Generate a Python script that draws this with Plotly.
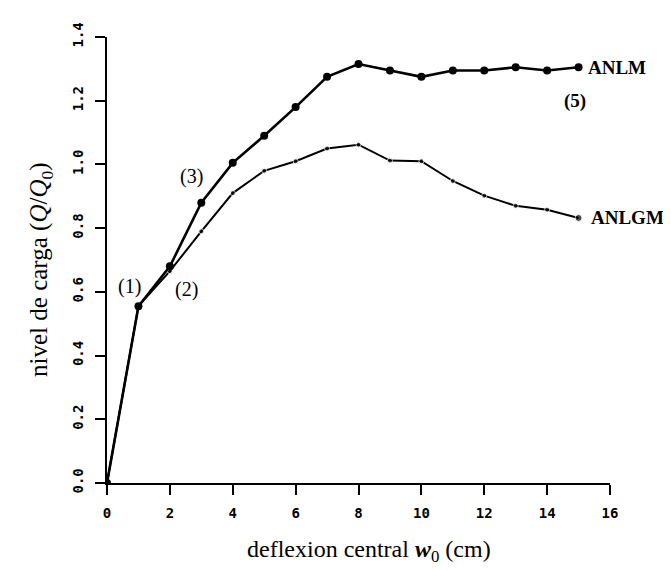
import plotly.graph_objects as go

# deflexion central w0 (cm)
w0 = [0, 1, 2, 3, 4, 5, 6, 7, 8, 9, 10, 11, 12, 13, 14, 15]

# nivel de carga Q/Q0
anlm = [0, 0.555, 0.68, 0.88, 1.005, 1.09, 1.18, 1.275, 1.315, 1.295, 1.275, 1.295, 1.295, 1.305, 1.295, 1.305]
anlgm = [0, 0.555, 0.665, 0.79, 0.91, 0.98, 1.01, 1.05, 1.062, 1.012, 1.01, 0.948, 0.902, 0.87, 0.858, 0.832]

x_ticks = [0, 2, 4, 6, 8, 10, 12, 14, 16]
y_ticks = [0.0, 0.2, 0.4, 0.6, 0.8, 1.0, 1.2, 1.4]

serif = "Liberation Serif"
mono = "DejaVu Sans Mono"

fig = go.Figure()
fig.add_trace(go.Scatter(x=w0, y=anlgm, mode='lines+markers', name='ANLGM',
                         line=dict(color='black', width=2),
                         marker=dict(color='black', size=[5] * 15 + [7])))
fig.add_trace(go.Scatter(x=w0, y=anlm, mode='lines+markers', name='ANLM',
                         line=dict(color='black', width=2.6),
                         marker=dict(color='black', size=8)))

# curve labels and point numbers
def note(x, y, text, dx, dy, size=20, anchor='center'):
    fig.add_annotation(x=x, y=y, text=text, showarrow=False, xanchor=anchor,
                       xshift=dx, yshift=dy, borderpad=0,
                       font=dict(family=serif, size=size, color='black'))

note(w0[-1], anlm[-1], "<b>ANLM</b>", 8, 0, size=19, anchor='left')
note(w0[-1], anlgm[-1], "<b>ANLGM</b>", 11, 0, size=19, anchor='left')
note(w0[-1], anlm[-1], "<b>(5)</b>", -4, -34, size=19)
note(w0[3], anlm[3], "(3)", -10, 26)
note(w0[1], anlm[1], "(1)", -9, 20)
note(w0[2], anlm[2], "(2)", 17, -23)

# axis titles
fig.add_annotation(xref='paper', yref='paper', x=0.52, y=-0.152, showarrow=False,
                   xanchor='center', yanchor='middle',
                   text="deflexion central <b><i>w</i></b><sub>0</sub> (cm)",
                   font=dict(family=serif, size=24, color='black'))
fig.add_annotation(xref='paper', yref='paper', x=-0.131, y=0.478, showarrow=False,
                   xanchor='center', yanchor='middle', textangle=-90,
                   text="nivel de carga (<i>Q</i>/<i>Q</i><sub>0</sub>)",
                   font=dict(family=serif, size=25, color='black'))

axis_style = dict(showgrid=False, zeroline=False,
                  showline=True, linecolor='black', linewidth=2,
                  ticks='outside', ticklen=10, tickwidth=1.5, tickcolor='black',
                  ticklabelstandoff=6,
                  tickfont=dict(family=mono, size=14, color='black', weight='bold'))

fig.update_layout(
    width=671, height=571,
    margin=dict(l=99, r=69, t=29, b=96),
    plot_bgcolor='white', paper_bgcolor='white',
    showlegend=False,
    xaxis=dict(range=[0, 16], tickvals=x_ticks, **axis_style),
    yaxis=dict(range=[0, 1.4], tickvals=y_ticks, tickformat='.1f', tickangle=-90, **axis_style),
)

fig.write_html("out.html")
